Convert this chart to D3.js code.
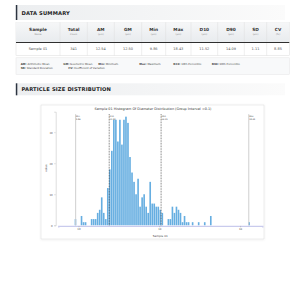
<!DOCTYPE html>
<html><head><meta charset="utf-8">
<script src="https://cdn.jsdelivr.net/npm/d3@7"></script>
<style>html,body{margin:0;padding:0;background:#fff;}svg{display:block;font-family:"DejaVu Sans",sans-serif;}</style>
</head><body><svg id="c" width="300" height="300"></svg>
<script>
// ---------- DATA ----------
const summaryColumns = ["Sample","Total","AM","GM","Min","Max","D10","D90","SD","CV"];
const summaryUnits   = ["Name","Count","(μm)","(μm)","(μm)","(μm)","(μm)","(μm)","(μm)","(%)"];
const summaryValues  = ["Sample 01","341","12.54","12.50","9.86","18.43","11.52","14.09","1.11","8.85"];
const legendLine1 = [["AM:","Arithmetic Mean"],["GM:","Geometric Mean"],["Min:","Minimum"],["Max:","Maximum"],["D10:","10th Percentile"],["D90:","90th Percentile"]];
const legendLine2 = [["SD:","Standard Deviation"],["CV:","Coefficient of Variation"]];
const chartTitle = "Sample 01 Histogram Of Diameter Distribution (Group Interval =0.1)";
const xAxisName = "Sample 01";
const yAxisName = "value";
const binStarts = [9.8,9.9,10.0,10.1,10.2,10.3,10.4,10.5,10.6,10.7,10.8,10.9,11.0,11.1,11.2,11.3,11.4,11.5,11.6,11.7,11.8,11.9,
  12.0,12.1,12.2,12.3,12.4,12.5,12.6,12.7,12.8,12.9,13.0,13.1,13.2,13.3,13.4,13.5,13.6,13.7,13.8,13.9,
  14.0,14.1,14.2,14.3,14.4,14.5,14.6,14.7,14.8,14.9,15.0,15.1,15.2,15.3,15.4,15.5,15.6,15.7,15.8,15.9,
  16.0,16.1,16.2,16.3,16.4,16.5,16.6,16.7,16.8,16.9,17.0,17.1,17.2,17.3,17.4,17.5,17.6,17.7,17.8,17.9,
  18.0,18.1,18.2,18.3,18.4];
const binCounts = [2,0,0,3,1,1,0,0,2,2,2,4,5,9,4,2,12,18,24,34,34,27,
  34,26,34,35,33,22,17,14,10,15,6,9,10,6,4,14,7,7,6,6,
  5,4,0,0,2,2,6,4,6,5,4,1,3,1,1,0,1,0,0,1,
  0,0,1,0,0,3,0,0,0,0,0,0,0,0,0,0,0,0,0,0,
  0,0,0,0,1];
const markerNames  = ["Min","D10","D90","Max"];
const markerValues = [9.86, 11.52, 14.09, 18.43];
const markerKinds  = ["solid","dash","dash","solid"];
const xTickValues = [10,14,18];
const yTickValues = [0,10,20,30];
const binWidth = 0.1;

// ---------- LAYOUT ----------
const svg = d3.select("#c");
const defs = svg.append("defs");
const g1 = defs.append("linearGradient").attr("id","hdr").attr("x1","0").attr("x2","1");
g1.append("stop").attr("offset","0").attr("stop-color","#eceef0");
g1.append("stop").attr("offset","1").attr("stop-color","#fbfbfb");
const g2 = defs.append("linearGradient").attr("id","th").attr("x1","0").attr("x2","0").attr("y1","0").attr("y2","1");
g2.append("stop").attr("offset","0").attr("stop-color","#f6f7f8");
g2.append("stop").attr("offset","1").attr("stop-color","#e8ebee");
const sh = defs.append("filter").attr("id","shadow").attr("x","-5%").attr("y","-5%").attr("width","110%").attr("height","110%");
sh.append("feDropShadow").attr("dx",0).attr("dy",0.5).attr("stdDeviation",0.8).attr("flood-color","#000").attr("flood-opacity",0.08);

function sectionHeader(y, h, text){
  svg.append("rect").attr("x",16).attr("y",y).attr("width",269).attr("height",h).attr("fill","url(#hdr)");
  svg.append("rect").attr("x",15.8).attr("y",y).attr("width",1.5).attr("height",h).attr("fill","#2c3440");
  svg.append("text").attr("x",21.5).attr("y",y+h/2+2).attr("font-size",5.2).attr("font-weight","bold")
    .attr("fill","#222").attr("letter-spacing",0.15).text(text);
}
sectionHeader(5,15,"DATA SUMMARY");
sectionHeader(83.3,12,"PARTICLE SIZE DISTRIBUTION");

// table
const colEdges = [16,60,87.3,114.3,141.7,165.7,191,217.7,244.3,266.7,289.3];
const tTop = 22.3, tHead = 20.2, tRow = 13;
svg.append("rect").attr("x",16).attr("y",tTop).attr("width",273.3).attr("height",tHead+tRow)
  .attr("fill","#fff").attr("stroke","#dcdcdc").attr("stroke-width",0.5);
svg.append("rect").attr("x",16).attr("y",tTop).attr("width",273.3).attr("height",tHead).attr("fill","url(#th)");
summaryColumns.forEach((c,i)=>{
  const cx = (colEdges[i]+colEdges[i+1])/2;
  if(i>0) svg.append("line").attr("x1",colEdges[i]).attr("x2",colEdges[i]).attr("y1",tTop).attr("y2",tTop+tHead+tRow)
    .attr("stroke","#dcdcdc").attr("stroke-width",0.5);
  svg.append("text").attr("x",cx).attr("y",tTop+8.7).attr("text-anchor","middle").attr("font-size",4.3)
    .attr("font-weight","bold").attr("fill","#333").text(c);
  svg.append("text").attr("x",cx).attr("y",tTop+12.6).attr("text-anchor","middle").attr("font-size",2.4)
    .attr("fill","#8a8a8a").text(summaryUnits[i]);
  svg.append("text").attr("x",cx).attr("y",tTop+tHead+7.6).attr("text-anchor","middle").attr("font-size",3.5)
    .attr("fill","#555").text(summaryValues[i]);
});
svg.append("line").attr("x1",16).attr("x2",289.3).attr("y1",tTop+tHead).attr("y2",tTop+tHead).attr("stroke","#2f2f2f").attr("stroke-width",1);

// legend box
svg.append("rect").attr("x",16).attr("y",57.8).attr("width",273.3).attr("height",16.5)
  .attr("fill","#f8f9fa").attr("stroke","#e4e4e4").attr("stroke-width",0.5);
const l1x = [20.7,63.3,98.3,139.3,173.3,211.7], l2x=[20.7,68.3];
function legendLine(items, xs, y){
  items.forEach((it,i)=>{
    const t = svg.append("text").attr("x",xs[i]).attr("y",y).attr("font-size",2.7).attr("fill","#444");
    t.append("tspan").attr("font-weight","bold").text(it[0]);
    t.append("tspan").text(" "+it[1]);
  });
}
legendLine(legendLine1,l1x,65);
legendLine(legendLine2,l2x,69.2);

// chart panel
svg.append("rect").attr("x",41).attr("y",105).attr("width",223).attr("height",134)
  .attr("fill","#fff").attr("stroke","#e0e0e0").attr("stroke-width",0.6).attr("filter","url(#shadow)");
svg.append("text").attr("x",153).attr("y",110.3).attr("text-anchor","middle").attr("font-size",3.4)
  .attr("fill","#333").text(chartTitle);

const x = d3.scaleLinear().domain([9,19.1]).range([58.3,262.3]);
const y = d3.scaleLinear().domain([0,36.6]).range([225.3,111.7]);

// y axis
const yAxis = d3.axisLeft(y).tickValues(yTickValues).tickSize(1.5).tickPadding(1.5);
const ya = svg.append("g").attr("transform","translate(55.7,0)").call(yAxis);
ya.select(".domain").attr("stroke","#bbb").attr("stroke-width",0.5);
ya.selectAll(".tick line").attr("stroke","#bbb").attr("stroke-width",0.5);
ya.selectAll("text").attr("font-size",2.6).attr("fill","#555").attr("font-family","DejaVu Sans");
svg.append("text").attr("transform","translate(46.8,168) rotate(-90)").attr("text-anchor","middle")
  .attr("font-size",2.7).attr("fill","#444").text(yAxisName);

// bars
svg.append("g").selectAll("rect").data(binStarts.map((b,i)=>({b,c:binCounts[i]})).filter(d=>d.c>0))
  .join("rect")
  .attr("x",d=>x(d.b)+0.2).attr("width",d=>x(d.b+binWidth)-x(d.b)-0.4)
  .attr("y",d=>y(d.c)).attr("height",d=>y(0)-y(d.c))
  .attr("fill","#66aee1");

// x axis
const xAxis = d3.axisBottom(x).tickValues(xTickValues).tickSize(1.5).tickPadding(1).tickFormat(d3.format("d"));
const xa = svg.append("g").attr("transform","translate(0,"+(y(0)+0.6)+")").call(xAxis);
xa.select(".domain").attr("stroke","#c9cbed").attr("stroke-width",1.4);
xa.selectAll(".tick line").attr("stroke","#999").attr("stroke-width",0.4);
xa.selectAll("text").attr("font-size",2.6).attr("fill","#555").attr("font-family","DejaVu Sans");
svg.append("text").attr("x",160.3).attr("y",237).attr("text-anchor","middle").attr("font-size",2.8)
  .attr("fill","#444").text(xAxisName);

// marker lines
markerValues.forEach((v,i)=>{
  const solid = markerKinds[i]==="solid";
  svg.append("line").attr("x1",x(v)).attr("x2",x(v)).attr("y1",y(35.8)).attr("y2",y(0))
    .attr("stroke",solid?"#cfcfcf":"#333").attr("stroke-width",solid?1:0.7)
    .attr("stroke-dasharray",solid?null:"0.8,0.8");
  svg.append("text").attr("x",x(v)+0.4).attr("y",y(35.8)+3.3).attr("font-size",2.1).attr("fill","#444").text(markerNames[i]);
  svg.append("text").attr("x",x(v)+0.4).attr("y",y(35.8)+6.0).attr("font-size",2.1).attr("fill","#444").text(v.toFixed(2));
});
</script></body></html>
